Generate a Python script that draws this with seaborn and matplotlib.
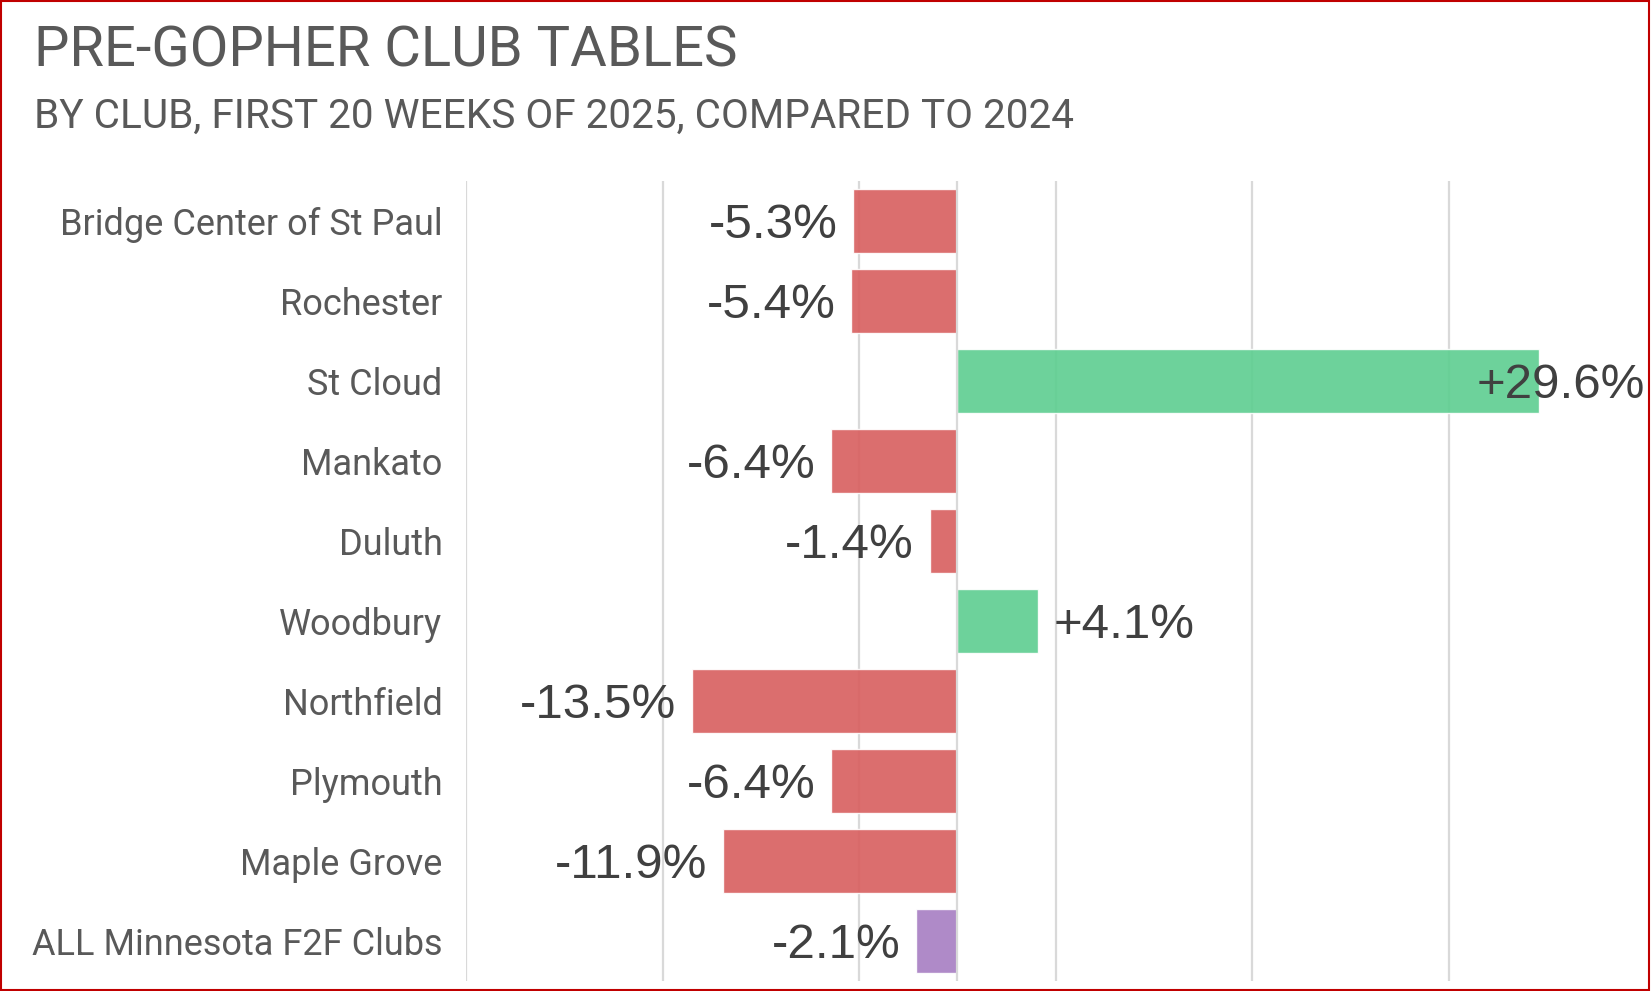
import matplotlib
matplotlib.use("Agg")
import matplotlib.pyplot as plt
import seaborn as sns
from matplotlib.patches import Rectangle

# Data
clubs = ["Bridge Center of St Paul", "Rochester", "St Cloud", "Mankato", "Duluth",
         "Woodbury", "Northfield", "Plymouth", "Maple Grove", "ALL Minnesota F2F Clubs"]
pct_change = [-5.3, -5.4, 29.6, -6.4, -1.4, 4.1, -13.5, -6.4, -11.9, -2.1]
grid_ticks = [-25, -15, -5, 5, 15, 25]

RED = "#D85E5E"
GREEN = "#5DCE90"
PURPLE = "#A77DC2"
colors = []
for name, v in zip(clubs, pct_change):
    if name.startswith("ALL"):
        colors.append(PURPLE)
    elif v >= 0:
        colors.append(GREEN)
    else:
        colors.append(RED)

sns.set_style("white")
plt.rcParams['font.family'] = ['Roboto', 'DejaVu Sans']

fig = plt.figure(figsize=(16.51, 9.91), dpi=100)
ax = fig.add_axes([466 / 1651, 10 / 991, (1645 - 466) / 1651, 800 / 991])

sns.barplot(x=pct_change, y=clubs, hue=clubs, palette=colors, orient="h",
            width=0.8, saturation=1, legend=False, alpha=0.9, ax=ax, zorder=2)

ax.set_xlim(-25, 35)
ax.set_ylim(9.5, -0.5)
ax.set_xticks(grid_ticks)
ax.set_xticklabels([])
ax.xaxis.grid(True, color="#D9D9D9", linewidth=1.6, zorder=0)
ax.yaxis.grid(False)
ax.set_axisbelow(True)
ax.axvline(0, color="#D9D9D9", linewidth=1.6, zorder=3)
for s in ax.spines.values():
    s.set_visible(False)
ax.tick_params(axis="y", length=0, pad=17, labelsize=26, labelcolor="#595959")
ax.tick_params(axis="x", length=0)
ax.set_xlabel("")
ax.set_ylabel("")

# data labels
pad = 0.8
for i, v in enumerate(pct_change):
    txt = f"{v:+.1f}%"
    if v < 0:
        x, ha = v - pad, "right"
    elif v > 25:
        x, ha = 35, "right"
    else:
        x, ha = v + pad, "left"
    ax.text(x, i, txt, ha=ha, va="center_baseline", fontsize=35.5, color="#404040",
            family=["Liberation Sans", "DejaVu Sans"], zorder=4)

fig.text(34 / 1651, 1 - 66.7 / 991, "PRE-GOPHER CLUB TABLES", fontsize=40.5,
         color="#595959", va="baseline", ha="left")
fig.text(34 / 1651, 1 - 127.3 / 991, "BY CLUB, FIRST 20 WEEKS OF 2025, COMPARED TO 2024",
         fontsize=29.2, color="#595959", va="baseline", ha="left")

fig.patches.append(Rectangle((0.0006, 0.001), 0.9982, 0.998, transform=fig.transFigure,
                             fill=False, edgecolor="#C00000", linewidth=1.5))

fig.savefig("out.png", dpi=100)
